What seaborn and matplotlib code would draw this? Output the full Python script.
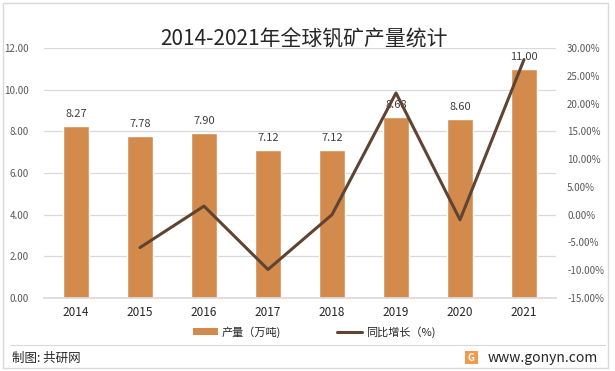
import numpy as np
import pandas as pd
import matplotlib
matplotlib.use('Agg')
import matplotlib.pyplot as plt
import seaborn as sns
from matplotlib.patches import Patch, Rectangle
from matplotlib.lines import Line2D

# data
years = ['2014', '2015', '2016', '2017', '2018', '2019', '2020', '2021']
output = [8.27, 7.78, 7.90, 7.12, 7.12, 8.68, 8.60, 11.00]   # 产量（万吨）
growth = [np.nan, -5.92, 1.54, -9.87, 0.00, 21.91, -0.92, 27.91]  # 同比增长（%）

bar_color = '#D38B4D'
line_color = '#5E4431'
grid_color = '#D9D9D9'
text_color = '#595959'

sns.set_theme(style='white')
plt.rcParams['font.family'] = ['Noto Sans CJK SC', 'DejaVu Sans']

df = pd.DataFrame({'year': years, 'output': output, 'growth': growth})
df['pos'] = np.arange(len(df))

fig = plt.figure(figsize=(6.15, 3.71), dpi=100)
ax = fig.add_axes([44 / 615, 1 - 298 / 371, 512 / 615, 250 / 371])

# 1. bars
sns.barplot(data=df, x='year', y='output', color=bar_color, width=0.4,
            saturation=1, ax=ax, zorder=2)
ax.bar_label(ax.containers[0], fmt='%.2f', padding=5, fontsize=8, color='#404040')

ax.set_ylim(0, 12)
ax.set_yticks(np.arange(0, 13, 2))
ax.set_yticklabels([f'{v:.2f}' for v in np.arange(0, 13, 2)])
ax.set_xlim(-0.5, len(years) - 0.5)
ax.yaxis.grid(True, color=grid_color, linewidth=0.9, zorder=0)
ax.set_axisbelow(True)
ax.set_xlabel('')
ax.set_ylabel('')
for s in ['top', 'right', 'left']:
    ax.spines[s].set_visible(False)
ax.spines['bottom'].set_color(grid_color)
ax.tick_params(axis='y', length=0, pad=11, labelsize=7, labelcolor=text_color)
ax.tick_params(axis='x', length=0, pad=6, labelsize=8.5, labelcolor='#262626')

# 2. growth line on secondary axis
ax2 = ax.twinx()
line_df = df.dropna()
sns.lineplot(data=line_df, x='pos', y='growth', color=line_color, linewidth=2.2,
             ax=ax2, zorder=3)
ax2.set_ylim(-15, 30)
ax2.set_yticks(np.arange(-15, 31, 5))
ax2.set_yticklabels([f'{v:.2f}%' for v in np.arange(-15, 31, 5)])
ax2.set_xlim(-0.5, len(years) - 0.5)
ax2.set_ylabel('')
ax2.set_xlabel('')
for s in ['top', 'right', 'left', 'bottom']:
    ax2.spines[s].set_visible(False)
ax2.tick_params(axis='y', length=0, pad=8, labelsize=7, labelcolor=text_color)

# title
fig.text(304 / 615, 1 - 39 / 371, '2014-2021年全球钒矿产量统计', ha='center', va='center',
         fontsize=15, color='#262626')

# legend
handles = [Patch(facecolor=bar_color, edgecolor='none'),
           Line2D([0], [0], color=line_color, linewidth=2.2)]
fig.legend(handles, ['产量（万吨)', '同比增长（%)'], loc='center',
           bbox_to_anchor=(314 / 615, 1 - 332 / 371), ncol=2, frameon=False,
           fontsize=8, handlelength=2.3, handleheight=0.6, columnspacing=5,
           handletextpad=0.3, labelcolor='#262626')

# footer
fig.add_artist(Line2D([10 / 615, 605 / 615], [1 - 345 / 371, 1 - 345 / 371],
                      color=grid_color, linewidth=0.8, transform=fig.transFigure))
fig.text(12 / 615, 1 - 358 / 371, '制图: 共研网', ha='left', va='center',
         fontsize=9, color='#262626')
fig.add_artist(Rectangle((465 / 615, 1 - 364 / 371), 13 / 615, 13 / 371,
                         facecolor='#F39A4A', edgecolor='none',
                         transform=fig.transFigure))
fig.text(471 / 615, 1 - 358 / 371, 'G', ha='center', va='center',
         fontsize=7, color='white', fontweight='bold')
fig.text(598 / 615, 1 - 358 / 371, 'www.gonyn.com', ha='right', va='center',
         fontsize=10, color='#262626')

# outer frame
fig.add_artist(Rectangle((3 / 615, 3 / 371), 605 / 615, 365 / 371, fill=False,
                         edgecolor=grid_color, linewidth=1, transform=fig.transFigure))

fig.savefig('out.png', dpi=100)
